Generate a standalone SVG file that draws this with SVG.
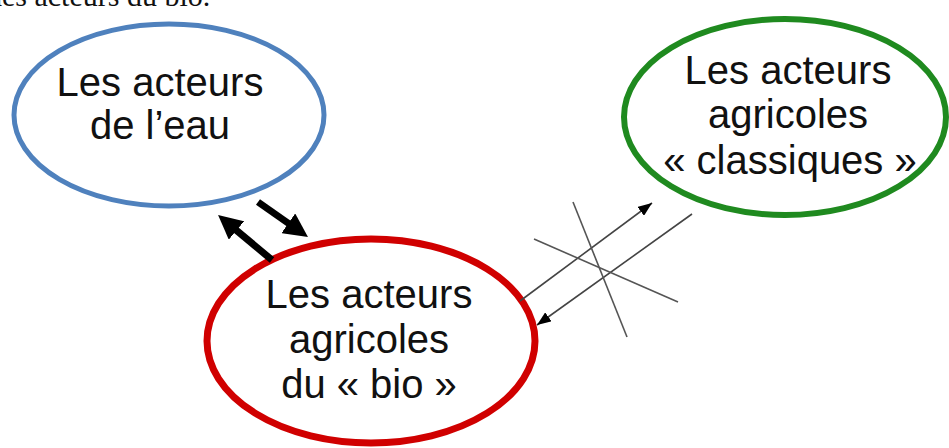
<svg xmlns="http://www.w3.org/2000/svg" width="949" height="448" viewBox="0 0 949 448">
  <style>
    .lbl { font-family: "Liberation Sans", Arial, sans-serif; font-size: 40px; fill: #111; text-anchor: middle; }
    .ring { fill: #fff; }
    .thick { stroke: #000; stroke-width: 7; fill: none; }
    .thin { stroke: #444; stroke-width: 1.6; fill: none; }
    .cross { stroke: #555; stroke-width: 1.6; fill: none; }
  </style>
  <defs>
    <marker id="headBig" markerUnits="userSpaceOnUse" markerWidth="24" markerHeight="24" viewBox="0 0 24 24" refX="10" refY="12" orient="auto">
      <path d="M0,0 L24,12 L0,24 z" fill="#000"/>
    </marker>
    <marker id="headSmall" markerUnits="userSpaceOnUse" markerWidth="14" markerHeight="11" viewBox="0 0 14 11" refX="14" refY="5.5" orient="auto">
      <path d="M0,0 L14,5.5 L0,11 z" fill="#000"/>
    </marker>
  </defs>
  <rect width="949" height="448" fill="#fff"/>

  <!-- running text line, clipped by the top edge -->
  <text x="-13" y="6" font-family="'Liberation Serif', 'Times New Roman', serif" font-size="30" fill="#111">des acteurs du bio.</text>

  <g id="node-eau">
    <ellipse class="ring" cx="169" cy="115" rx="155" ry="91" stroke="#4f81bd" stroke-width="5"/>
    <text class="lbl" x="160" y="96">Les acteurs</text>
    <text class="lbl" x="160" y="139">de l’eau</text>
  </g>

  <g id="node-classiques">
    <ellipse class="ring" cx="785" cy="117" rx="161" ry="98" stroke="#1f8a1f" stroke-width="6"/>
    <text class="lbl" x="788" y="84">Les acteurs</text>
    <text class="lbl" x="788" y="128">agricoles</text>
    <text class="lbl" x="790" y="174">« classiques  »</text>
  </g>

  <g id="node-bio">
    <ellipse class="ring" cx="371" cy="341" rx="164" ry="102" stroke="#d00000" stroke-width="7"/>
    <text class="lbl" x="369" y="308">Les acteurs</text>
    <text class="lbl" x="369" y="353">agricoles</text>
    <text class="lbl" x="369" y="398">du «  bio  »</text>
  </g>

  <g id="connectors">
    <!-- exchanges between water and organic actors -->
    <line class="thick" x1="272" y1="260" x2="228.8" y2="224" marker-end="url(#headBig)"/>
    <line class="thick" x1="258" y1="202" x2="296.5" y2="229" marker-end="url(#headBig)"/>
    <!-- crossed-out link with conventional actors -->
    <line class="thin" x1="520" y1="301" x2="652" y2="203" marker-end="url(#headSmall)"/>
    <line class="thin" x1="692" y1="214" x2="537" y2="325" marker-end="url(#headSmall)"/>
    <line class="cross" x1="573" y1="202" x2="627" y2="337"/>
    <line class="cross" x1="534" y1="239" x2="678" y2="302"/>
  </g>
</svg>
